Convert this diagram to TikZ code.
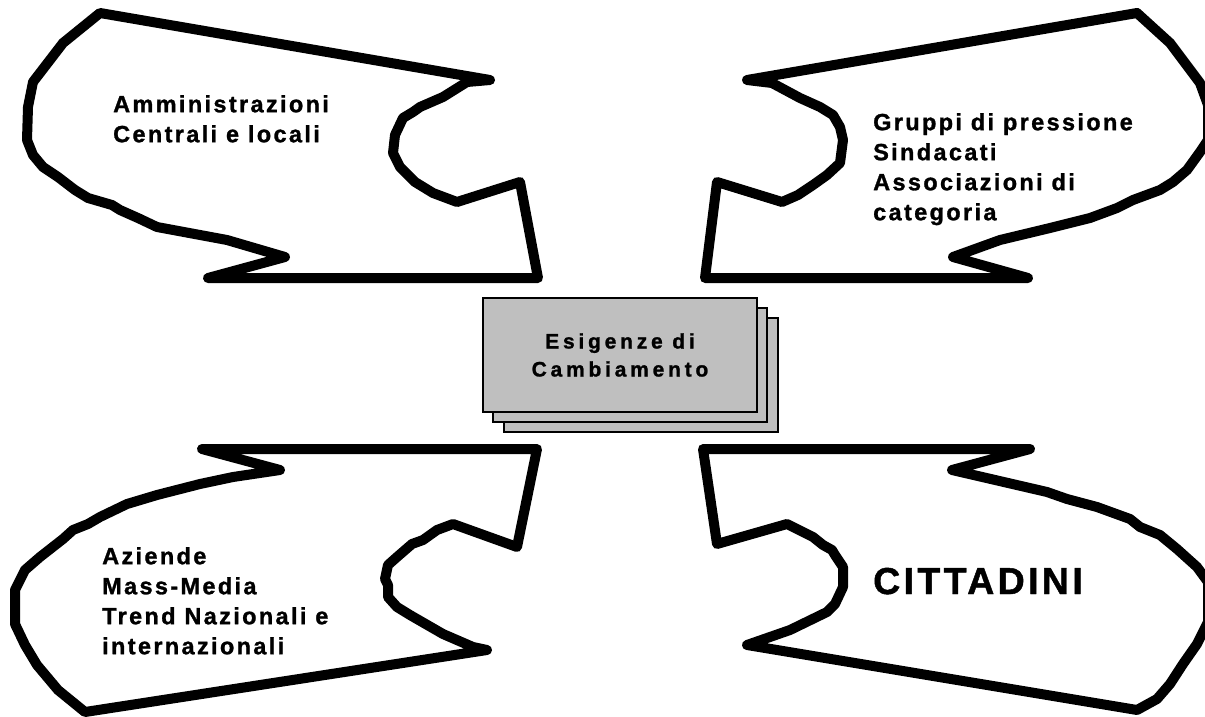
\documentclass[tikz,border=0pt]{standalone}
\usepackage{fontspec}
\setmainfont{Liberation Sans}
\newfontfamily\labelfont[LetterSpace=10,FakeBold=1.2]{Liberation Sans Bold}
\newfontfamily\centrefont[LetterSpace=18,FakeBold=1.2]{Liberation Sans Bold}
\newfontfamily\bigfont[LetterSpace=9,FakeBold=1.2]{Liberation Sans Bold}
\tikzset{
    cloud line/.style={line width=10pt,line join=round,line cap=round},
    sheet/.style={draw,line width=2.5pt,fill=black!25,minimum width=274pt,minimum height=114pt,inner sep=0pt},
    group text/.style={anchor=north west,inner sep=0pt,align=left,font=\labelfont\fontsize{23.5}{30}\selectfont},
}
\begin{document}
\begin{tikzpicture}[x=1pt,y=-1pt]
    \useasboundingbox (0,0) rectangle (1205,717);
    % top left
    \draw[cloud line] (100,13) -- (490,80) -- (467,82) -- (443,97) -- (420,107) -- (413,112) -- (403,118)
        -- (395,135) -- (393,153) -- (400,167) -- (408,175) -- (415,182) -- (433,193) -- (457,202)
        -- (520,182) -- (538,278) -- (208,278) -- (285,257) -- (227,240) -- (157,227) -- (138,218)
        -- (120,210) -- (112,205) -- (88,198) -- (75,190) -- (58,177) -- (43,167) -- (33,155)
        -- (27,140) -- (28,107) -- (33,82) -- (63,43) -- cycle;
    % top right
    \draw[cloud line] (747,80) -- (1137,13) -- (1170,43) -- (1200,83) -- (1208,105) -- (1208,140)
        -- (1200,152) -- (1187,170) -- (1173,182) -- (1160,190) -- (1133,200) -- (1117,208)
        -- (1090,218) -- (1050,228) -- (1000,240) -- (953,257) -- (1028,278) -- (705,278)
        -- (717,182) -- (782,202) -- (798,195) -- (813,185) -- (827,175) -- (840,163) -- (843,140)
        -- (840,127) -- (833,115) -- (820,107) -- (800,98) -- (772,83) -- cycle;
    % bottom left
    \draw[cloud line] (202,449) -- (537,449) -- (517,547) -- (453,524) -- (437,530) -- (423,540)
        -- (412,544) -- (397,557) -- (388,565) -- (385,579) -- (388,585) -- (388,597) -- (397,607)
        -- (410,615) -- (443,634) -- (473,647) -- (487,650) -- (85,712) -- (58,690) -- (37,665)
        -- (25,645) -- (15,624) -- (15,590) -- (25,570) -- (40,557) -- (63,539) -- (73,530)
        -- (88,524) -- (100,517) -- (127,504) -- (157,495) -- (200,484) -- (233,477) -- (280,470) -- cycle;
    % bottom right
    \draw[cloud line] (703,449) -- (1030,449) -- (952,470) -- (1047,492) -- (1067,499) -- (1097,507)
        -- (1130,519) -- (1140,527) -- (1160,535) -- (1177,549) -- (1197,567) -- (1208,582)
        -- (1208,622) -- (1197,644) -- (1183,664) -- (1170,684) -- (1157,699) -- (1137,710)
        -- (747,645) -- (790,630) -- (827,612) -- (835,604) -- (843,587) -- (843,567) -- (835,555)
        -- (832,550) -- (823,545) -- (813,537) -- (787,524) -- (717,544) -- cycle;

    \node[group text] (admin) at (113,95) {Amministrazioni\\Centrali e locali};
    \node[group text] (groups) at (873,113) {Gruppi di pressione\\Sindacati\\Associazioni di\\categoria};
    \node[group text] (firms) at (102,547) {Aziende\\Mass-Media\\Trend Nazionali e\\internazionali};
    \node[anchor=base west,inner sep=0pt,font=\bigfont\fontsize{37.5}{40}\selectfont] (citizens) at (873,594) {CITTADINI};

    % stack of sheets
    \node[sheet] (sheet3) at (641,375) {};
    \node[sheet] (sheet2) at (630,365) {};
    \node[sheet,align=center,font=\centrefont\fontsize{21}{28}\selectfont] (needs) at (620,355) {Esigenze di\\Cambiamento};
\end{tikzpicture}
\end{document}
